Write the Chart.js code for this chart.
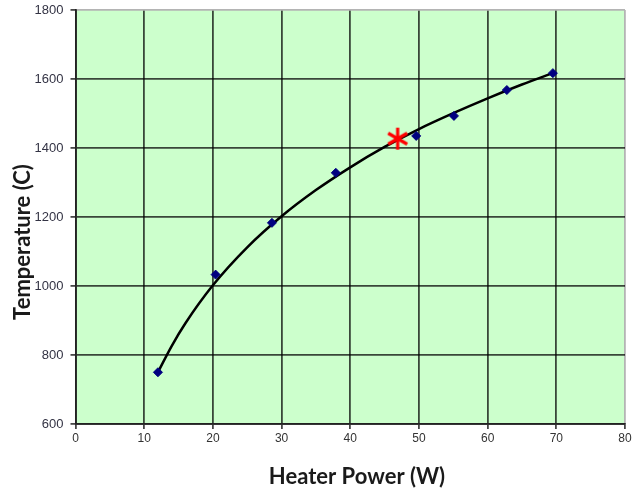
<!DOCTYPE html>
<html lang="en">
<head>
  <meta charset="UTF-8">
  <title>Heater Power vs Temperature</title>
  <script src="https://cdn.jsdelivr.net/npm/chart.js"></script>
  <style>
    body {
      margin: 0;
      padding: 0;
      background-color: #ffffff;
      overflow: hidden;
    }
    .chart-container {
      position: relative;
      top: -3px;
      width: 641px;
      height: 494px;
    }
  </style>
</head>
<body>
  <div class="chart-container">
    <canvas id="heaterChart"></canvas>
  </div>

  <script>
    // Measured points
    const powerW = [12, 20.4, 28.6, 37.9, 49.6, 55.1, 62.8, 69.5];
    const tempC = [750, 1033, 1183, 1328, 1435, 1493, 1568, 1617];

    // Trend line
    const trendPower = [12, 14, 16, 20, 25, 30, 35, 40, 45, 50, 55, 60, 65, 69.5];
    const trendTemp = [750, 826, 892, 1002, 1112, 1202, 1278, 1344, 1403, 1455, 1501, 1544, 1584, 1617];

    // Red asterisk
    const markPower = [46.9];
    const markTemp = [1427];

    const xTicks = [0, 10, 20, 30, 40, 50, 60, 70, 80];
    const yTicks = [600, 800, 1000, 1200, 1400, 1600, 1800];

    // asterisk point style
    const star = document.createElement("canvas");
    star.width = 24;
    star.height = 24;
    const sctx = star.getContext("2d");
    sctx.strokeStyle = "#ff0000";
    sctx.lineWidth = 3.2;
    sctx.lineCap = "butt";
    for (let a = 0; a < 3; a++) {
      const ang = Math.PI / 2 + a * Math.PI / 3;
      sctx.beginPath();
      sctx.moveTo(12 + Math.cos(ang) * 11, 12 + Math.sin(ang) * 11);
      sctx.lineTo(12 - Math.cos(ang) * 11, 12 - Math.sin(ang) * 11);
      sctx.stroke();
    }

    const plotBackground = {
      id: "plotBackground",
      beforeDraw(chart) {
        const { ctx, chartArea: a } = chart;
        ctx.save();
        ctx.fillStyle = "#ccffcc";
        ctx.fillRect(a.left, a.top, a.right - a.left, a.bottom - a.top);
        ctx.restore();
      }
    };

    // canvas sits 3px above the page top, so titles are offset by 3
    const axisTitles = {
      id: "axisTitles",
      afterDraw(chart) {
        const { ctx } = chart;
        ctx.save();
        ctx.fillStyle = "#1a1a1a";
        ctx.font = "bold 22px Lato, 'Open Sans', sans-serif";
        ctx.textAlign = "center";
        ctx.textBaseline = "middle";
        ctx.fillText("Heater Power (W)", 357, 480);
        ctx.translate(23, 245);
        ctx.rotate(-Math.PI / 2);
        ctx.fillText("Temperature (C)", 0, 0);
        ctx.restore();
      }
    };

    const gridColor = (edge) => (ctx) =>
      ctx.tick && ctx.tick.value === edge ? "#b4b4b4" : "rgba(0,0,0,0.72)";

    new Chart(document.getElementById("heaterChart"), {
      type: "scatter",
      data: {
        datasets: [
          {
            label: "Measured",
            data: powerW.map((p, i) => ({ x: p, y: tempC[i] })),
            pointStyle: "rectRot",
            pointRadius: 4.5,
            backgroundColor: "#000080",
            borderColor: "#000080",
            borderWidth: 1,
            order: 2
          },
          {
            label: "Trend",
            type: "line",
            data: trendPower.map((p, i) => ({ x: p, y: trendTemp[i] })),
            borderColor: "#000000",
            borderWidth: 2.5,
            pointRadius: 0,
            cubicInterpolationMode: "monotone",
            fill: false,
            order: 3
          },
          {
            label: "Target",
            data: markPower.map((p, i) => ({ x: p, y: markTemp[i] })),
            pointStyle: star,
            pointRadius: 12,
            order: 1
          }
        ]
      },
      options: {
        responsive: true,
        maintainAspectRatio: false,
        animation: false,
        layout: { padding: { top: 3, right: 16, left: 0, bottom: 0 } },
        plugins: {
          legend: { display: false },
          tooltip: { enabled: false }
        },
        scales: {
          x: {
            type: "linear",
            min: 0,
            max: 80,
            afterBuildTicks(scale) {
              scale.ticks = xTicks.map(v => ({ value: v }));
            },
            afterFit(scale) {
              scale.height = 67;
              scale.paddingLeft = 0;
              scale.paddingRight = 0;
            },
            ticks: {
              color: "#333333",
              font: { family: "'Liberation Sans', Arial, sans-serif", size: 12 },
              padding: 2
            },
            grid: {
              color: gridColor(80),
              lineWidth: 1.8,
              tickLength: 5,
              tickColor: "rgba(0,0,0,0.72)"
            },
            border: { display: true, color: "#222222", width: 1.8 }
          },
          y: {
            min: 600,
            max: 1800,
            afterBuildTicks(scale) {
              scale.ticks = yTicks.map(v => ({ value: v }));
            },
            afterFit(scale) {
              scale.width = 75.5;
              scale.paddingTop = 0;
              scale.paddingBottom = 0;
            },
            ticks: {
              color: "#333344",
              font: { family: "'Liberation Sans', Arial, sans-serif", size: 13 },
              padding: 7,
              callback: (v) => String(v)
            },
            grid: {
              color: gridColor(1800),
              lineWidth: 1.8,
              tickLength: 5,
              tickColor: "rgba(0,0,0,0.72)"
            },
            border: { display: true, color: "#222222", width: 1.8 }
          }
        }
      },
      plugins: [plotBackground, axisTitles]
    });
  </script>
</body>
</html>
